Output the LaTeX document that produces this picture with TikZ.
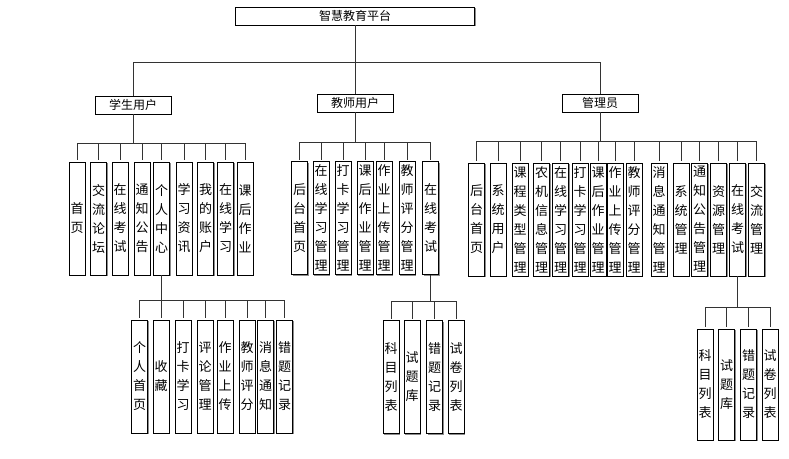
\documentclass[tikz,border=0pt]{standalone}
\usepackage{fontspec}
\setmainfont{Noto Sans CJK SC}
\usetikzlibrary{shadows}

\begin{document}
\begin{tikzpicture}[x=1pt,y=-1pt,
  box/.style={draw=black,fill=white,line width=0.9pt,inner sep=0pt,
    drop shadow={shadow xshift=1pt,shadow yshift=-1pt,fill=black!45,opacity=1},
    font=\fontsize{12}{14}\selectfont},
  vbox/.style={box,minimum width=16pt,minimum height=113pt,align=center,
    font=\fontsize{13}{19}\selectfont},
  link/.style={draw=black!80,line width=0.9pt}]
\useasboundingbox (0,0) rectangle (789,458);

\node[box,minimum width=239pt,minimum height=18pt] (root) at (355,16) {智慧教育平台};
\node[box,minimum width=76pt,minimum height=18pt] (stu) at (133,105) {学生用户};
\node[box,minimum width=76pt,minimum height=18pt] (tea) at (355,103) {教师用户};
\node[box,minimum width=76pt,minimum height=18pt] (adm) at (600,103) {管理员};
\coordinate (b0) at (355,62);
\draw[link] (root.south) -- (b0);
\foreach \n in {stu,tea,adm}
  \draw[link] (b0) -| (\n.north);

% student
\coordinate (sb) at (133,143);
\draw[link] (stu.south) -- (sb);
\foreach \n/\x/\lab in {1/77/{首\\页},2/98.5/{交\\流\\论\\坛},3/120/{在\\线\\考\\试},
  4/142/{通\\知\\公\\告},5/161.5/{个\\人\\中\\心},6/184/{学\\习\\资\\讯},
  7/205.5/{我\\的\\账\\户},8/225.5/{在\\线\\学\\习},9/245/{课\\后\\作\\业}}{
  \draw[link] (sb) -| (\x,160);
  \node[vbox] (stu\n) at (\x,218.5) {\lab};
}
\coordinate (ssb) at (161.5,300);
\draw[link] (stu5.south) -- (ssb);
\foreach \n/\x/\lab in {1/139.5/{个\\人\\首\\页},2/161/{收\\藏},3/183/{打\\卡\\学\\习},
  4/205/{评\\论\\管\\理},5/225/{作\\业\\上\\传},6/247/{教\\师\\评\\分},
  7/265.5/{消\\息\\通\\知},8/284.5/{错\\题\\记\\录}}{
  \draw[link] (ssb) -| (\x,318);
  \node[vbox] (ssub\n) at (\x,376.5) {\lab};
}

% teacher
\coordinate (tb) at (355,142);
\draw[link] (tea.south) -- (tb);
\foreach \n/\x/\lab in {1/299.5/{后\\台\\首\\页},2/321/{在\\线\\学\\习\\管\\理},
  3/343/{打\\卡\\学\\习\\管\\理},4/365/{课\\后\\作\\业\\管\\理},
  5/384/{作\\业\\上\\传\\管\\理},6/407/{教\\师\\评\\分\\管\\理},7/430.5/{在\\线\\考\\试}}{
  \draw[link] (tb) -| (\x,160);
  \node[vbox] (tea\n) at (\x,218) {\lab};
}
\coordinate (tsb) at (430.5,301);
\draw[link] (tea7.south) -- (tsb);
\foreach \n/\x/\lab in {1/391/{科\\目\\列\\表},2/412/{试\\题\\库},
  3/434.5/{错\\题\\记\\录},4/456/{试\\卷\\列\\表}}{
  \draw[link] (tsb) -| (\x,319);
  \node[vbox] (tsub\n) at (\x,377) {\lab};
}

% admin
\coordinate (ab) at (600,141);
\draw[link] (adm.south) -- (ab);
\foreach \n/\x/\lab in {1/476.5/{后\\台\\首\\页},2/498/{系\\统\\用\\户},
  3/520/{课\\程\\类\\型\\管\\理},4/541.5/{农\\机\\信\\息\\管\\理},
  5/560.5/{在\\线\\学\\习\\管\\理},6/580/{打\\卡\\学\\习\\管\\理},
  7/598/{课\\后\\作\\业\\管\\理},8/615/{作\\业\\上\\传\\管\\理},
  9/634/{教\\师\\评\\分\\管\\理},10/659/{消\\息\\通\\知\\管\\理},
  11/681/{系\\统\\管\\理},12/699.5/{通\\知\\公\\告\\管\\理},13/718.5/{资\\源\\管\\理},
  14/737.5/{在\\线\\考\\试},15/756.5/{交\\流\\管\\理}}{
  \draw[link] (ab) -| (\x,161);
  \node[vbox] (adm\n) at (\x,219.5) {\lab};
}
\coordinate (asb) at (737.5,307);
\draw[link] (adm14.south) -- (asb);
\foreach \n/\x/\lab in {1/705/{科\\目\\列\\表},2/726.5/{试\\题\\库},
  3/748.5/{错\\题\\记\\录},4/770/{试\\卷\\列\\表}}{
  \draw[link] (asb) -| (\x,327);
  \node[vbox,minimum height=111pt] (asub\n) at (\x,384.5) {\lab};
}
\end{tikzpicture}
\end{document}
